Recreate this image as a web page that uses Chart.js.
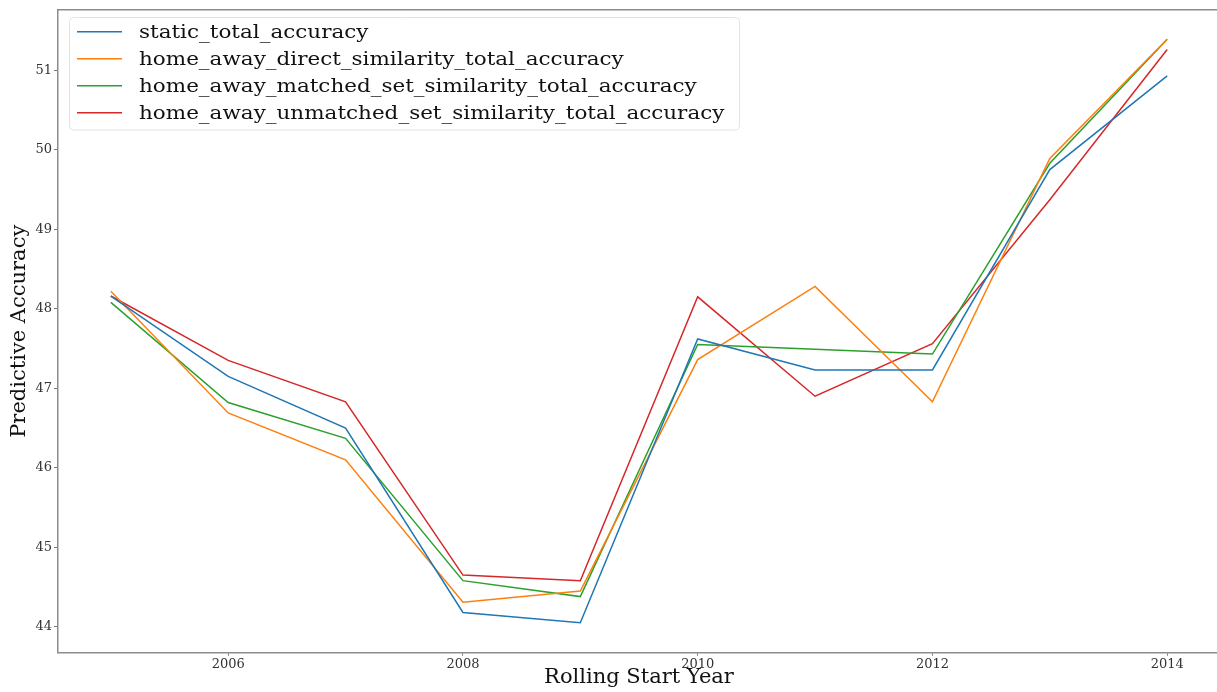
<!DOCTYPE html>
<html>
<head>
<meta charset="utf-8">
<script src="https://cdn.jsdelivr.net/npm/chart.js@4/dist/chart.umd.min.js"></script>
<style>
  html, body { margin: 0; padding: 0; background: #fff; overflow: hidden; }
  #wrap { position: relative; width: 1221px; height: 692px; }
</style>
</head>
<body>
<div id="wrap"><canvas id="accuracyChart"></canvas></div>
<script>
// rolling start years
const years = [2005, 2006, 2007, 2008, 2009, 2010, 2011, 2012, 2013, 2014];

// accuracy per model (%)
const staticAcc    = [48.16, 47.15, 46.50, 44.18, 44.05, 47.62, 47.23, 47.23, 49.75, 50.93];
const directAcc    = [48.22, 46.69, 46.10, 44.31, 44.45, 47.36, 48.28, 46.83, 49.89, 51.39];
const matchedAcc   = [48.08, 46.82, 46.37, 44.58, 44.38, 47.55, 47.49, 47.43, 49.83, 51.39];
const unmatchedAcc = [48.16, 47.35, 46.83, 44.65, 44.58, 48.15, 46.90, 47.56, 49.37, 51.26];

const seriesNames = [
    'static_total_accuracy',
    'home_away_direct_similarity_total_accuracy',
    'home_away_matched_set_similarity_total_accuracy',
    'home_away_unmatched_set_similarity_total_accuracy'
];
const seriesColors = ['#1f77b4', '#ff7f0e', '#2ca02c', '#d62728'];

const xTicks = [2006, 2008, 2010, 2012, 2014];
const yTicks = [44, 45, 46, 47, 48, 49, 50, 51];

const serif = "'DejaVu Serif', serif";

function toPoints(vals) {
    return years.map((yr, i) => ({x: yr, y: vals[i]}));
}

// legend box inside the plot + top frame line
const insideLegend = {
    id: 'insideLegend',
    afterDatasetsDraw(chart) {
        const ctx = chart.ctx;
        const area = chart.chartArea;
        ctx.save();
        // top frame
        ctx.strokeStyle = '#8c8c8c';
        ctx.lineWidth = 1.5;
        ctx.beginPath();
        ctx.moveTo(area.left, area.top);
        ctx.lineTo(area.right, area.top);
        ctx.stroke();

        const bx = 69.5, by = 17.5, bw = 670, bh = 112.5;
        ctx.fillStyle = 'rgba(255,255,255,0.8)';
        ctx.strokeStyle = '#e3e3e3';
        ctx.lineWidth = 1;
        ctx.beginPath();
        ctx.roundRect(bx, by, bw, bh, 4);
        ctx.fill();
        ctx.stroke();

        chart.data.datasets.forEach((ds, i) => {
            const ly = 31.7 + i * 27;
            ctx.strokeStyle = ds.borderColor;
            ctx.lineWidth = 1.5;
            ctx.beginPath();
            ctx.moveTo(77, ly);
            ctx.lineTo(122, ly);
            ctx.stroke();
            // text is a little wide for its height
            ctx.save();
            ctx.translate(139, ly + 1);
            ctx.scale(1.12, 1);
            ctx.font = '19.2px ' + serif;
            ctx.textBaseline = 'middle';
            ctx.textAlign = 'left';
            ctx.fillStyle = '#111';
            ctx.fillText(ds.label, 0, 0);
            ctx.restore();
        });
        ctx.restore();
    }
};

const allSeries = [staticAcc, directAcc, matchedAcc, unmatchedAcc];

const ctx = document.getElementById('accuracyChart').getContext('2d');
const accuracyChart = new Chart(ctx, {
    type: 'line',
    data: {
        datasets: allSeries.map((vals, i) => ({
            label: seriesNames[i],
            data: toPoints(vals),
            borderColor: seriesColors[i],
            backgroundColor: seriesColors[i],
            borderWidth: 1.5,
            pointRadius: 0,
            tension: 0,
            fill: false
        }))
    },
    options: {
        responsive: true,
        maintainAspectRatio: false,
        animation: false,
        layout: {padding: {top: 7.5, right: 1, left: 0, bottom: 0}},
        plugins: {
            legend: {display: false},
            tooltip: {enabled: false}
        },
        scales: {
            x: {
                type: 'linear',
                min: 2004.55,
                max: 2014.45,
                afterBuildTicks: scale => { scale.ticks = xTicks.map(v => ({value: v})); },
                afterFit: scale => { scale.height = 39.3; },
                ticks: {
                    font: {family: serif, size: 13},
                    color: '#333',
                    padding: 1,
                    maxRotation: 0,
                    callback: v => String(v)
                },
                grid: {drawOnChartArea: false, tickLength: 3, color: '#777'},
                border: {display: true, color: '#8c8c8c', width: 1.5},
                title: {
                    display: true,
                    text: 'Rolling Start Year',
                    font: {family: serif, size: 21},
                    color: '#111',
                    padding: {top: 0, bottom: 1.5}
                }
            },
            y: {
                type: 'linear',
                min: 43.674,
                max: 51.76,
                afterBuildTicks: scale => { scale.ticks = yTicks.map(v => ({value: v})); },
                afterFit: scale => { scale.width = 58; },
                ticks: {
                    font: {family: serif, size: 13},
                    color: '#333',
                    padding: 2
                },
                grid: {drawOnChartArea: false, tickLength: 4, color: '#777'},
                border: {display: true, color: '#8c8c8c', width: 1.5},
                title: {
                    display: true,
                    text: 'Predictive Accuracy',
                    font: {family: serif, size: 21},
                    color: '#111',
                    padding: {top: 7, bottom: 0}
                }
            }
        }
    },
    plugins: [insideLegend]
});
</script>
</body>
</html>
